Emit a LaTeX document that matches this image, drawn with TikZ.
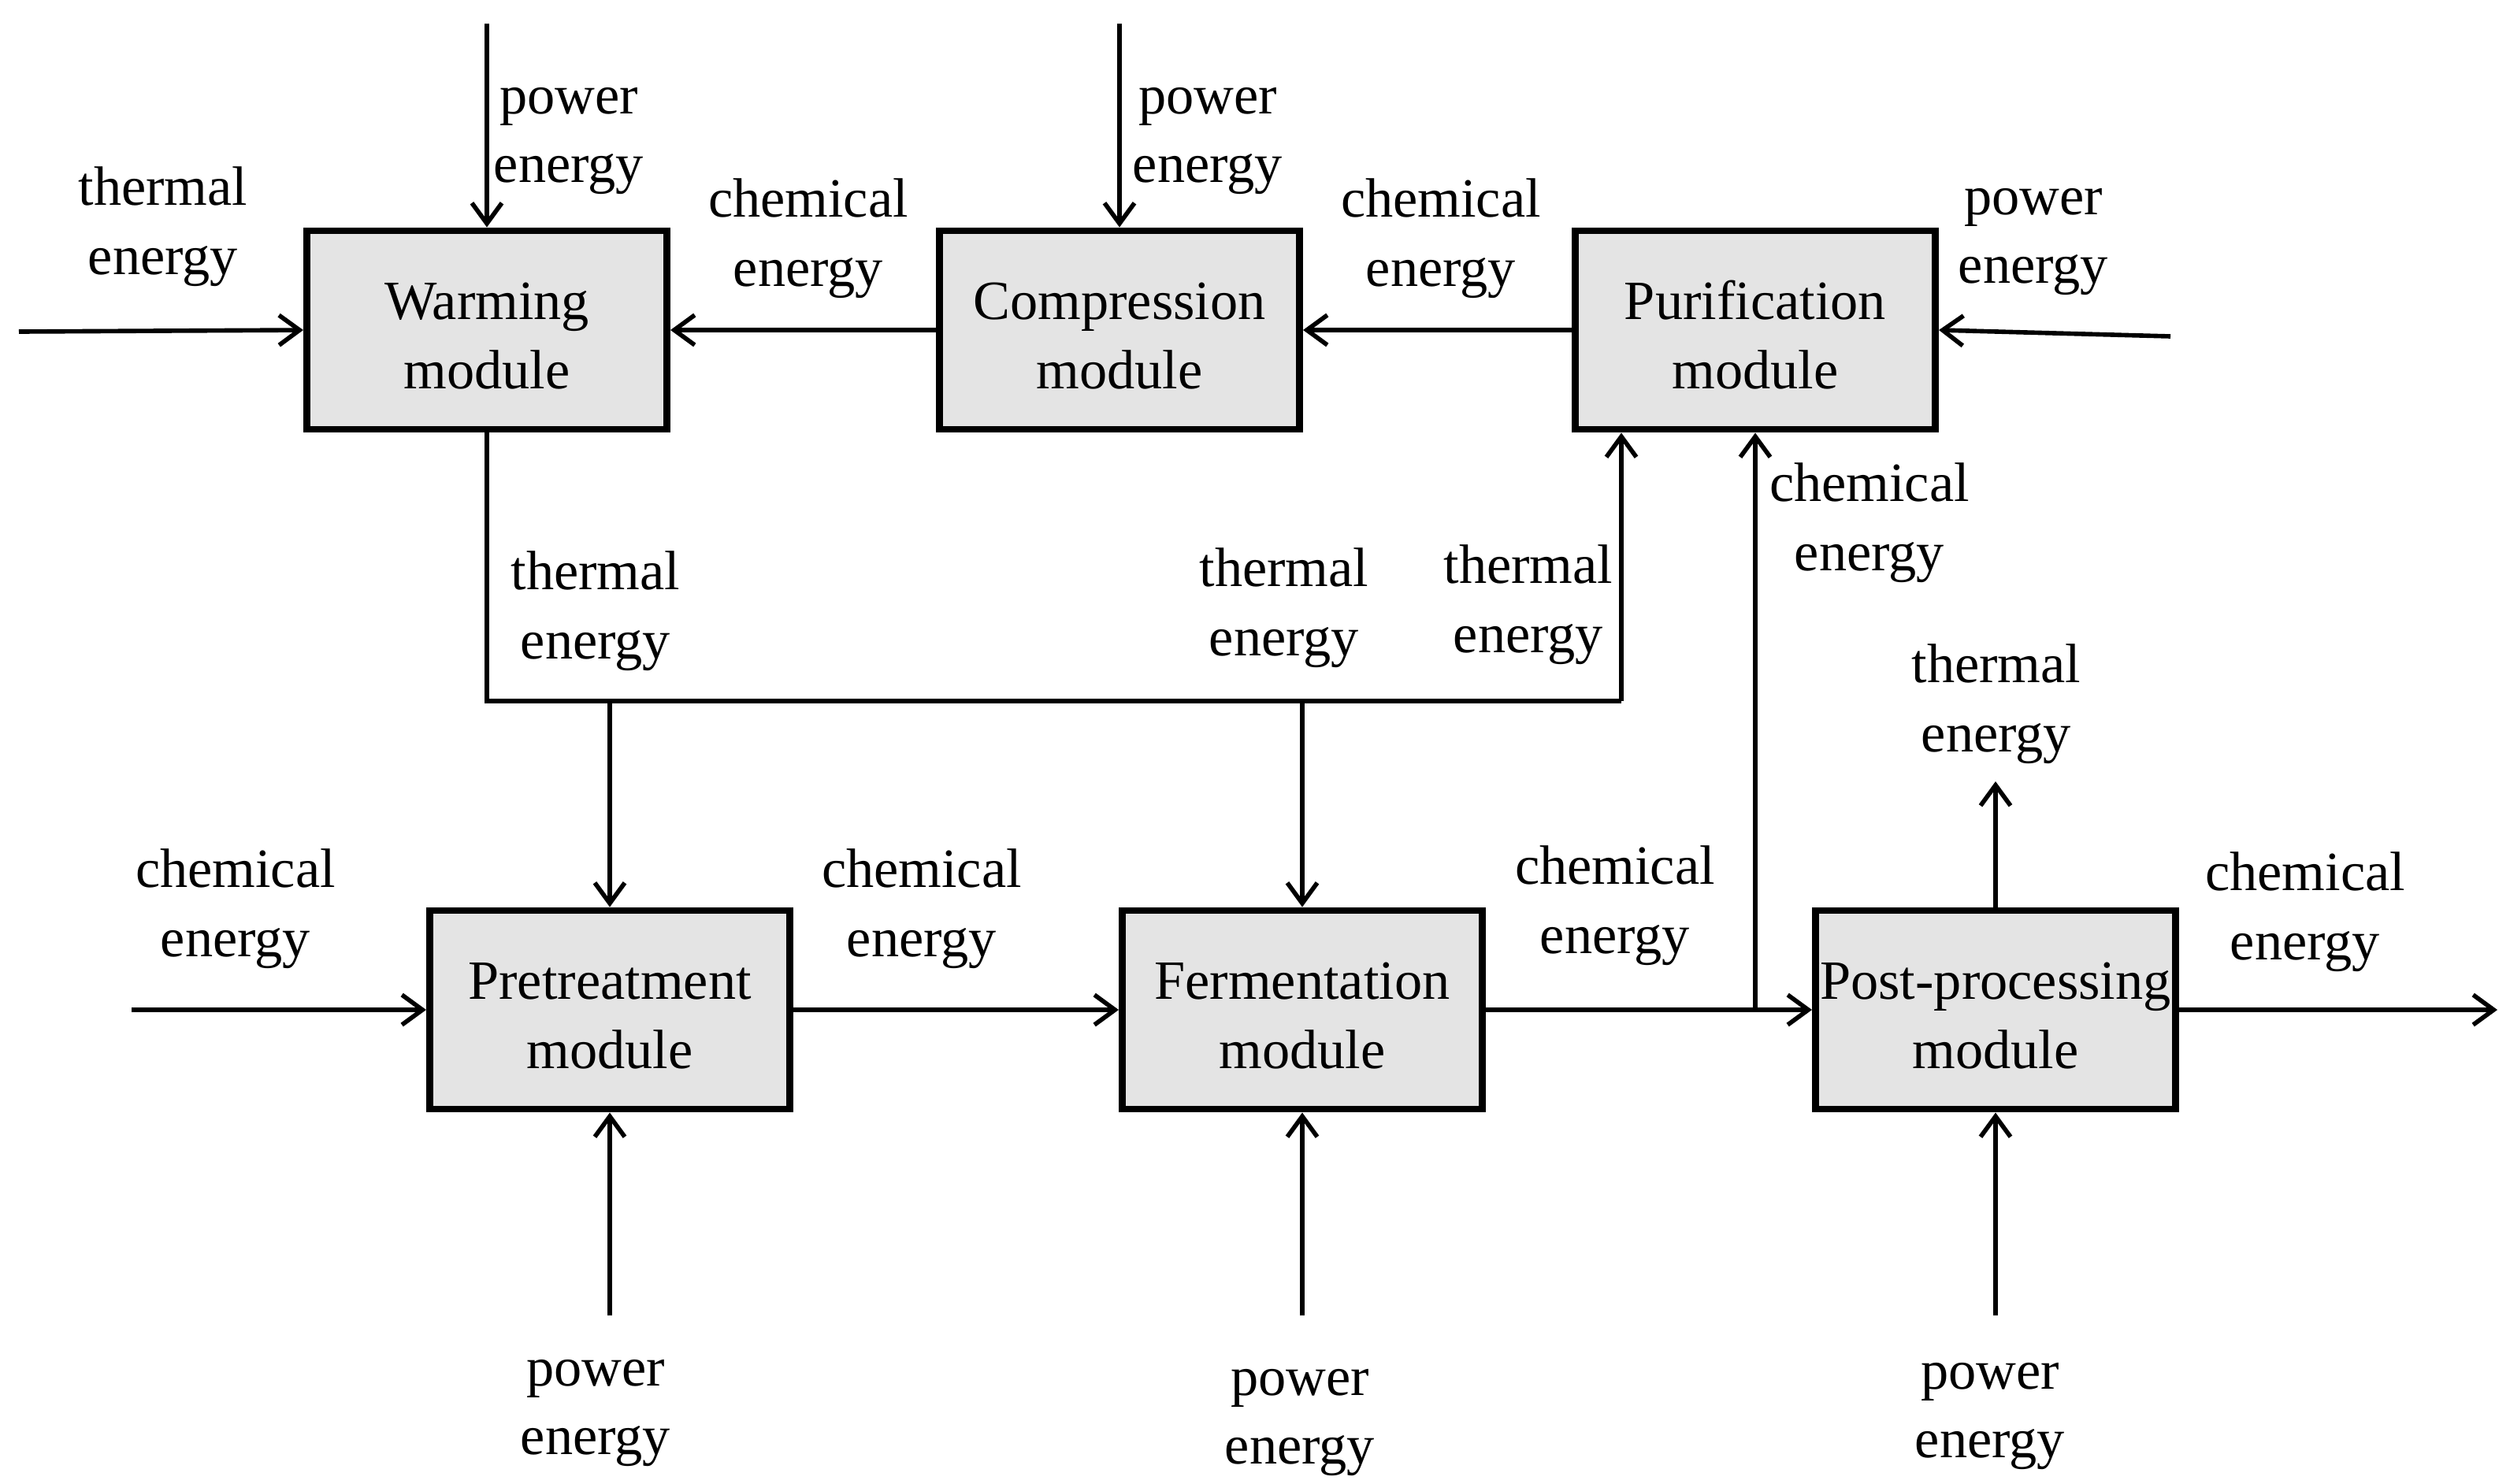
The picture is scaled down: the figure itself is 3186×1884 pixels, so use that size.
\documentclass[tikz,border=0pt]{standalone}
\usepackage{fontspec}
\setmainfont{Liberation Serif}
\usepackage{xcolor}
\usetikzlibrary{arrows.meta}
\usetikzlibrary{calc}
\usetikzlibrary{positioning}
\definecolor{modgray}{RGB}{228,228,228}

\begin{document}
\begin{tikzpicture}[x=0.01cm,y=-0.01cm,>={Straight Barb[length=2.6mm,width=3.8mm]},line width=1.6pt,font=\fontsize{20}{25}\selectfont]
 	\tikzstyle{module}=[draw=black, fill=modgray, line width=2.5pt, minimum width=4.57cm, minimum height=2.52cm, align=center, inner sep=0pt, text height=42.5pt]
 	\tikzstyle{lbl}=[align=center, inner sep=0pt]
 	\useasboundingbox (0,0) rectangle (3186,1884);

 	\node[module] (warm) at (618,419)   {Warming\\module};
 	\node[module] (comp) at (1421,419)  {Compression\\module};
 	\node[module] (puri) at (2228,419)  {Purification\\module};
 	\node[module] (pre)  at (774,1282)  {Pretreatment\\module};
 	\node[module] (ferm) at (1653,1282) {Fermentation\\module};
 	\node[module] (post) at (2533,1282) {Post-processing\\module};

 	\coordinate (thIn)   at (24,421);
 	\coordinate (pwW)    at (warm.north |- 0,30);
 	\coordinate (pwC)    at (comp.north |- 0,30);
 	\coordinate (pwP)    at (2755,427);
 	\coordinate (busL)   at (warm.south |- 0,890);
 	\coordinate (busR)   at (2058,890);
 	\coordinate (chIn)   at (167,1282);
 	\coordinate (chOut)  at (3170,1282);
 	\coordinate (thOut)  at (post.north |- 0,992);
 	\coordinate (pwPre)  at (pre.south |- 0,1670);
 	\coordinate (pwFerm) at (ferm.south |- 0,1670);
 	\coordinate (pwPost) at (post.south |- 0,1670);

 	\draw[->] (thIn) -- (warm.west);
 	\draw[->] (pwW) -- (warm.north);
 	\draw[->] (pwC) -- (comp.north);
 	\draw[->] (comp.west) -- (warm.east);
 	\draw[->] (puri.west) -- (comp.east);
 	\draw[->] (pwP) -- (puri.east);
 	\draw (warm.south) -- (busL) -- (busR);
 	\draw[->] (busR) -- (busR |- puri.south);
 	\draw[->] (pre.north |- busL) -- (pre.north);
 	\draw[->] (ferm.north |- busL) -- (ferm.north);
 	\draw[->] (chIn) -- (pre.west);
 	\draw[->] (pre.east) -- (ferm.west);
 	\draw[->] (ferm.east) -- (post.west);
 	\draw[->] (puri.south |- ferm.east) -- (puri.south);
 	\draw[->] (post.north) -- (thOut);
 	\draw[->] (post.east) -- (chOut);
 	\draw[->] (pwPre) -- (pre.south);
 	\draw[->] (pwFerm) -- (ferm.south);
 	\draw[->] (pwPost) -- (post.south);

 	\node[lbl] (lThIn)   at (207,288)   {thermal\\energy};
 	\node[lbl] (lPwW)    at (722,179)   {power\\energy};
 	\node[lbl] (lChWC)   at (1026,303)  {chemical\\energy};
 	\node[lbl] (lPwC)    at (1533,179)  {power\\energy};
 	\node[lbl] (lChCP)   at (1829,303)  {chemical\\energy};
 	\node[lbl] (lPwP)    at (2581,307)  {power\\energy};
 	\node[lbl] (lThW)    at (756,776)   {thermal\\energy};
 	\node[lbl] (lThF)    at (1630,772)  {thermal\\energy};
 	\node[lbl] (lThP)    at (1940,768)  {thermal\\energy};
 	\node[lbl] (lChP)    at (2373,664)  {chemical\\energy};
 	\node[lbl] (lThOut)  at (2534,894)  {thermal\\energy};
 	\node[lbl] (lChIn)   at (299,1154)  {chemical\\energy};
 	\node[lbl] (lChPF)   at (1170,1154) {chemical\\energy};
 	\node[lbl] (lChFP)   at (2050,1150) {chemical\\energy};
 	\node[lbl] (lChOut)  at (2926,1158) {chemical\\energy};
 	\node[lbl] (lPwPre)  at (756,1794)  {power\\energy};
 	\node[lbl] (lPwFerm) at (1650,1806) {power\\energy};
 	\node[lbl] (lPwPost) at (2526,1798) {power\\energy};
\end{tikzpicture}
\end{document}
